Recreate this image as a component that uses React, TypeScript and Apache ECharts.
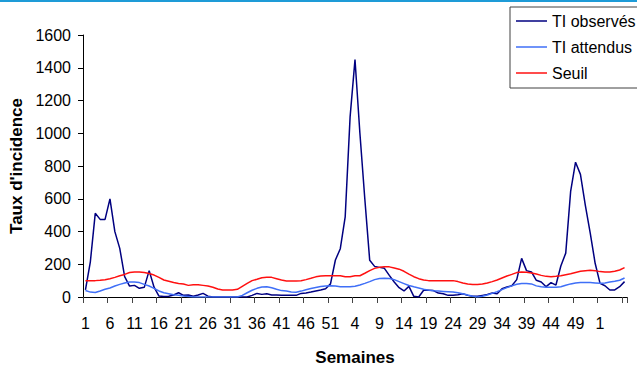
import { useEffect, useRef } from "react";
import * as echarts from "echarts";

// Week numbers along the x axis: season 1 (52 weeks), season 2 (53 weeks), then the start of season 3
const seasonLengths = [52, 53, 6];
const weeks: string[] = seasonLengths.flatMap((n) =>
  Array.from({ length: n }, (_, k) => String(k + 1))
);

// Taux d'incidence observés
const observed = [
  43, 215, 511, 474, 474, 599, 399, 297, 124, 67,
  71, 53, 59, 161, 60, 6, 3, 5, 12, 26,
  10, 12, 5, 12, 22, 5, 0, 0, 0, 0,
  0, 0, 0, 0, 10, 22, 16, 20, 12, 12,
  10, 10, 10, 10, 22, 24, 30, 37, 43, 50,
  80, 226, 295, 490, 1100, 1450, 1000, 600, 224, 187,
  181, 175, 132, 92, 57, 37, 65, 4, 0, 41,
  41, 39, 24, 20, 10, 10, 14, 20, 10, 4,
  4, 10, 16, 24, 20, 51, 61, 69, 106, 236,
  161, 153, 102, 92, 63, 88, 73, 189, 268, 645,
  823, 749, 560, 390, 206, 83, 69, 43, 43, 63, 94,
];

// Taux d'incidence attendus
const expected = [
  40, 30, 28, 37, 47, 55, 67, 77, 85, 92,
  92, 88, 77, 67, 53, 37, 26, 20, 14, 10,
  6, 3, 0, 0, 0, 0, 0, 0, 0, 0,
  0, 0, 10, 26, 41, 53, 61, 63, 57, 47,
  39, 37, 31, 29, 36, 44, 52, 58, 64, 67,
  68, 67, 63, 62, 62, 66, 73, 83, 94, 106,
  113, 114, 113, 106, 94, 82, 70, 62, 55, 47,
  42, 38, 36, 34, 32, 30, 26, 20, 12, 4,
  0, 4, 12, 22, 33, 45, 57, 68, 78, 82,
  83, 80, 68, 62, 60, 59, 60, 63, 72, 80,
  86, 88, 88, 88, 86, 84, 86, 92, 96, 102, 116,
];

// Seuil épidémique
const threshold = [
  100, 100, 100, 102, 106, 112, 120, 130, 138, 150,
  153, 153, 149, 143, 134, 120, 104, 96, 88, 83,
  79, 71, 75, 75, 71, 67, 60, 49, 43, 43,
  43, 47, 65, 83, 100, 108, 118, 120, 120, 112,
  104, 98, 98, 98, 99, 106, 114, 123, 128, 130,
  130, 130, 130, 124, 124, 130, 130, 145, 161, 175,
  181, 185, 184, 177, 170, 157, 140, 124, 112, 104,
  100, 100, 100, 100, 100, 100, 94, 85, 79, 77,
  77, 79, 85, 94, 104, 116, 128, 138, 149, 152,
  151, 147, 140, 132, 126, 124, 126, 130, 136, 142,
  150, 157, 161, 163, 161, 155, 153, 153, 157, 165, 179,
];

const FONT = '"Liberation Sans", Arial, sans-serif';

export default function App() {
  const ref = useRef<HTMLDivElement>(null);

  useEffect(() => {
    const chart = echarts.init(ref.current!, null, { renderer: "svg" });
    const lastIndex = weeks.length - 1;

    chart.setOption({
      animation: false,
      backgroundColor: "#ffffff",
      textStyle: { fontFamily: FONT },
      graphic: [
        {
          type: "rect",
          left: 0,
          top: 0,
          shape: { width: 637, height: 2 },
          style: { fill: "#1e9bd7" },
        },
      ],
      grid: {
        left: 83,
        top: 35,
        right: 10,
        bottom: 70,
        containLabel: false,
        outerBoundsMode: "none",
      },
      legend: {
        orient: "vertical",
        left: 510,
        top: 7,
        icon: "rect",
        itemWidth: 31,
        itemHeight: 1.5,
        itemGap: 10,
        padding: [6, 14, 7, 6],
        borderColor: "#404040",
        borderWidth: 1,
        backgroundColor: "#ffffff",
        textStyle: { fontSize: 16, color: "#000000", fontFamily: FONT },
        data: ["TI observés", "TI attendus", "Seuil"],
      },
      xAxis: {
        type: "category",
        data: weeks,
        boundaryGap: true,
        name: "Semaines",
        nameLocation: "middle",
        nameGap: 52,
        nameTextStyle: { fontSize: 17, fontWeight: "bold", color: "#000", fontFamily: FONT },
        axisLine: { lineStyle: { color: "#000000", width: 1 } },
        axisTick: {
          show: true,
          length: 6,
          interval: (i: number) => i % 5 === 0,
          lineStyle: { color: "#444444" },
        },
        axisLabel: {
          interval: (i: number) => i % 5 === 0 && i < lastIndex,
          fontSize: 16,
          color: "#000000",
          margin: 18,
          fontFamily: FONT,
        },
        splitLine: { show: false },
      },
      yAxis: {
        type: "value",
        min: 0,
        max: 1600,
        interval: 200,
        name: "Taux d'incidence",
        nameLocation: "middle",
        nameGap: 57,
        nameTextStyle: { fontSize: 17, fontWeight: "bold", color: "#000", fontFamily: FONT },
        axisLine: { show: true, lineStyle: { color: "#000000", width: 1 } },
        axisTick: { show: true, length: 5, lineStyle: { color: "#000000" } },
        axisLabel: {
          fontSize: 16,
          color: "#000000",
          margin: 12,
          fontFamily: FONT,
          formatter: (v: number) => String(v),
        },
        splitLine: { show: false },
      },
      series: [
        {
          name: "TI observés",
          type: "line",
          data: observed,
          symbol: "none",
          lineStyle: { color: "#000080", width: 1.5 },
          itemStyle: { color: "#000080" },
        },
        {
          name: "TI attendus",
          type: "line",
          data: expected,
          symbol: "none",
          lineStyle: { color: "#3f6ff7", width: 1.5 },
          itemStyle: { color: "#3f6ff7" },
        },
        {
          name: "Seuil",
          type: "line",
          data: threshold,
          symbol: "none",
          lineStyle: { color: "#ff1010", width: 1.5 },
          itemStyle: { color: "#ff1010" },
        },
      ],
    });

    return () => chart.dispose();
  }, []);

  return (
    <div
      ref={ref}
      style={{ position: "fixed", left: 0, top: 0, width: 637, height: 367, background: "#fff" }}
    />
  );
}
